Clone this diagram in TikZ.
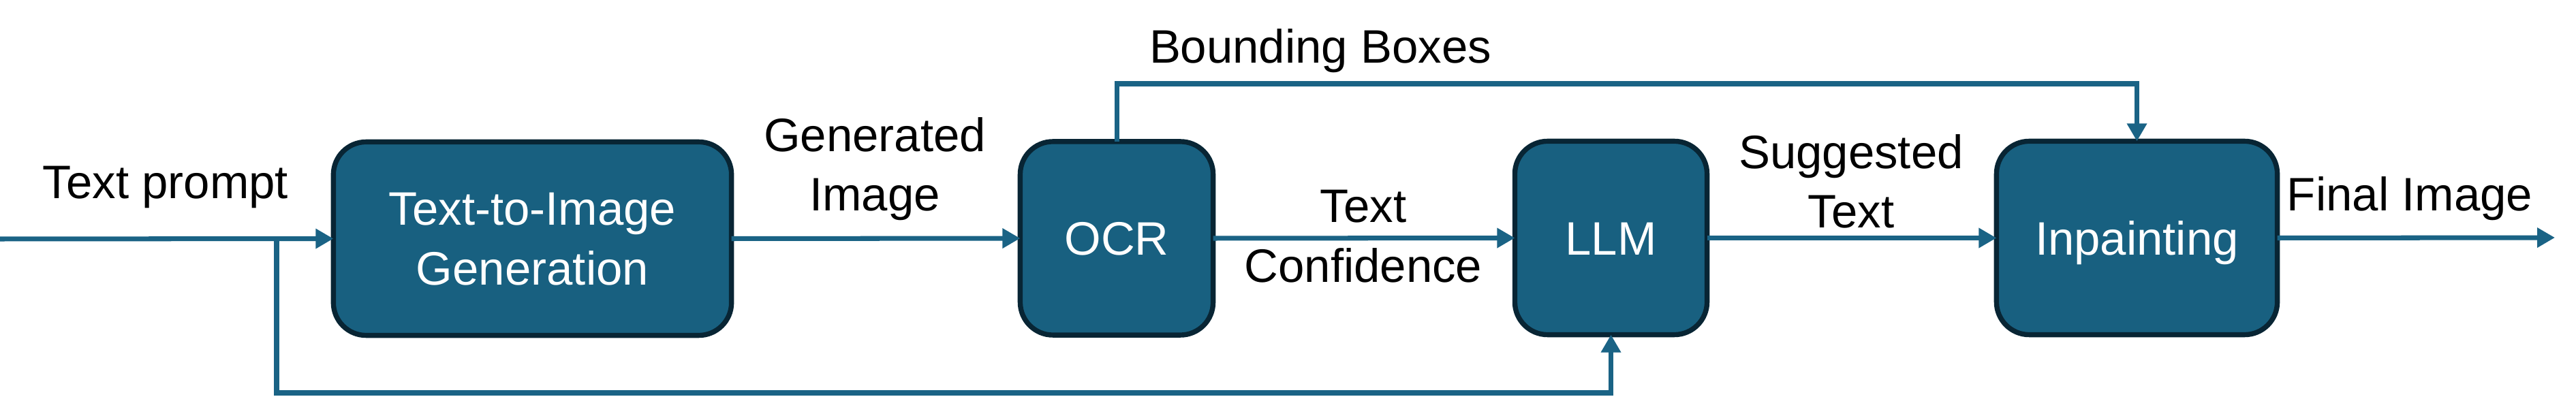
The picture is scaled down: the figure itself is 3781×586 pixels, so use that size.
\documentclass[tikz,border=0pt]{standalone}
\usepackage{fontspec}
\setmainfont{Liberation Sans}
\usetikzlibrary{arrows.meta}
\definecolor{boxfill}{RGB}{24,96,128}
\definecolor{boxedge}{RGB}{8,37,52}
\definecolor{wire}{RGB}{26,99,133}
\begin{document}
\begin{tikzpicture}[x=0.01cm,y=-0.01cm,
  every node/.style={font=\fontsize{19.6pt}{25pt}\selectfont, inner sep=0pt, outer sep=0pt},
  stage/.style={draw=boxedge, line width=2.1pt, fill=boxfill, text=white,
    rounded corners=0.48cm, minimum height=2.84cm, align=center,
    text height=0.49cm, text depth=0pt},
  lbl/.style={anchor=base, align=center, text=black},
  flow/.style={draw=wire, line width=2pt, -{Triangle[length=0.26cm,width=0.28cm]}},
  wireline/.style={draw=wire, line width=2pt}]
\useasboundingbox (0,0) rectangle (3781,586);

\node[stage, minimum width=5.84cm, text height=1.35cm] (gen) at (781.5,350.5) {Text-to-Image\\Generation};
\node[stage, minimum width=2.83cm] (ocr) at (1639,350) {OCR};
\node[stage, minimum width=2.82cm] (llm) at (2364.5,349.5) {LLM};
\node[stage, minimum width=4.12cm] (inp) at (3136.5,349.5) {Inpainting};

\coordinate (start) at (0,351);
\coordinate (split) at (406,351);
\coordinate (bbturn) at (1639,123);
\coordinate (out) at (3750,349);

\draw[flow] (start) -- (gen.west);
\draw[flow] (split) -- (406,577) -| (llm.south);
\draw[flow] (gen.east) -- (ocr.west);
\draw[flow] (ocr.east) -- (llm.west);
\draw[flow] (llm.east) -- (inp.west);
\draw[flow] (ocr.north) -- (bbturn) -| (inp.north);
\draw[flow] (inp.east) -- (out);

\node[lbl] (tp) at (243,292) {Text prompt};
\node[lbl] (gi) at (1284,310) {Generated\\Image};
\node[lbl] (bb) at (1938,93) {Bounding Boxes};
\node[lbl] (tx) at (2001,327) {Text};
\node[lbl] (cf) at (2001,415) {Confidence};
\node[lbl] (st) at (2717,335) {Suggested\\Text};
\node[lbl] (fi) at (3537,310) {Final Image};
\end{tikzpicture}
\end{document}
